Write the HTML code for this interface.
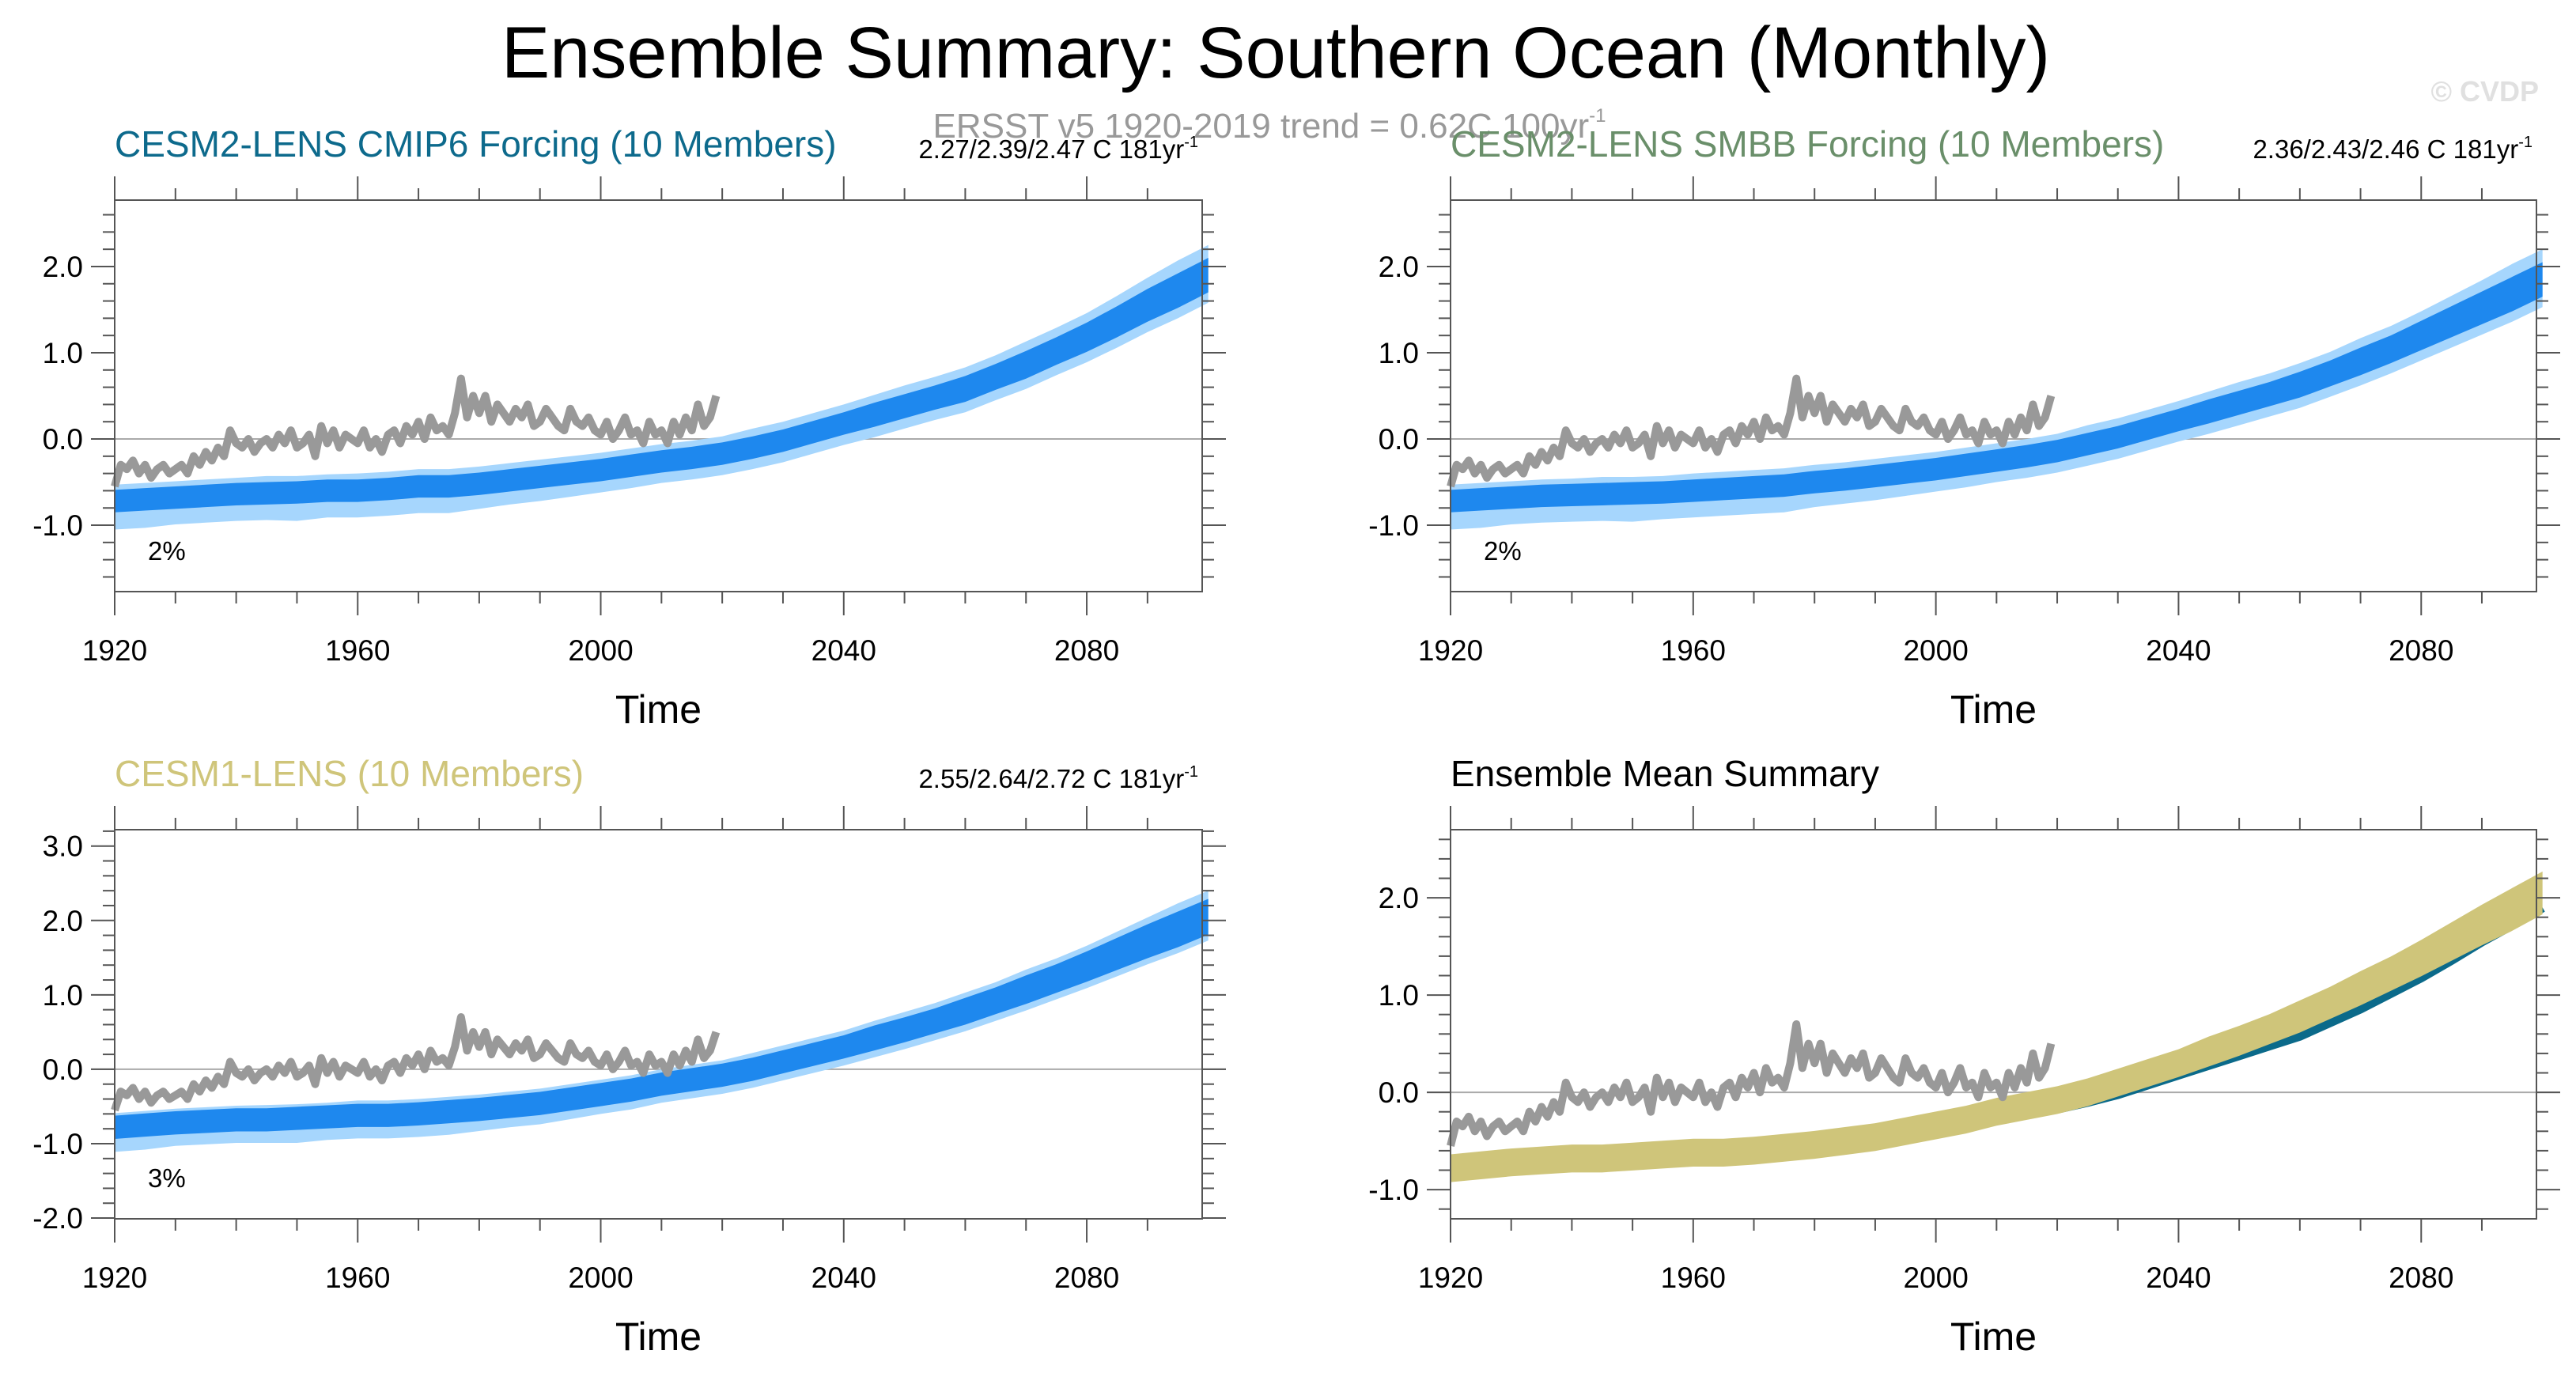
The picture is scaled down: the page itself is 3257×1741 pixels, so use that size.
<!DOCTYPE html>
<html><head><meta charset="utf-8"><style>
html,body{margin:0;padding:0;background:#fff;}
svg{display:block;font-family:"Liberation Sans",sans-serif;}
</style></head><body>
<svg id="fig" width="3257" height="1741" viewBox="0 0 3257 1741">
<text x="1613" y="98" font-size="92" text-anchor="middle" fill="#000">Ensemble Summary: Southern Ocean (Monthly)</text>
<text x="3210" y="128" font-size="36" font-weight="bold" text-anchor="end" fill="#e0e0e0">© CVDP</text>
<text x="1605" y="174" font-size="44" text-anchor="middle" fill="#999">ERSST v5 1920-2019 trend = 0.62C 100yr<tspan dy="-20" font-size="24">-1</tspan></text>
</svg>
<script>
// ---- data ----
const modelYears = [1920,1925,1930,1935,1940,1945,1950,1955,1960,1965,1970,1975,1980,1985,1990,1995,2000,2005,2010,2015,2020,2025,2030,2035,2040,2045,2050,2055,2060,2065,2070,2075,2080,2085,2090,2095,2100];
const meanCmip6 = [-0.72,-0.7,-0.68,-0.66,-0.64,-0.63,-0.62,-0.6,-0.6,-0.58,-0.55,-0.55,-0.52,-0.48,-0.44,-0.4,-0.36,-0.31,-0.26,-0.22,-0.17,-0.1,-0.02,0.08,0.18,0.28,0.38,0.48,0.58,0.72,0.86,1.02,1.18,1.36,1.55,1.72,1.9];
const meanSmbb = [-0.72,-0.7,-0.68,-0.66,-0.65,-0.64,-0.63,-0.62,-0.6,-0.58,-0.56,-0.54,-0.5,-0.47,-0.43,-0.39,-0.35,-0.3,-0.25,-0.2,-0.14,-0.06,0.02,0.12,0.22,0.32,0.42,0.52,0.63,0.76,0.9,1.04,1.2,1.36,1.52,1.68,1.85];
const meanCesm1 = [-0.78,-0.75,-0.72,-0.7,-0.68,-0.68,-0.66,-0.64,-0.62,-0.62,-0.6,-0.57,-0.54,-0.5,-0.46,-0.4,-0.34,-0.28,-0.2,-0.14,-0.08,0.0,0.1,0.2,0.3,0.42,0.53,0.65,0.78,0.92,1.07,1.22,1.38,1.55,1.72,1.88,2.05];
const spreadHalf = [0.13,0.13,0.13,0.13,0.13,0.13,0.13,0.13,0.13,0.13,0.13,0.13,0.13,0.13,0.13,0.13,0.13,0.13,0.13,0.13,0.13,0.13,0.13,0.13,0.13,0.14,0.14,0.14,0.15,0.15,0.16,0.16,0.17,0.18,0.19,0.2,0.2];
const lightLowExtra = [0.2,0.2,0.18,0.18,0.18,0.18,0.2,0.18,0.18,0.18,0.18,0.18,0.16,0.15,0.15,0.14,0.13,0.13,0.12,0.12,0.12,0.12,0.12,0.12,0.12,0.12,0.12,0.12,0.12,0.12,0.12,0.12,0.12,0.12,0.12,0.12,0.12];
const lightHighExtra = [0.06,0.06,0.06,0.06,0.06,0.07,0.06,0.06,0.07,0.07,0.07,0.07,0.07,0.07,0.07,0.07,0.07,0.07,0.07,0.07,0.07,0.09,0.09,0.09,0.09,0.09,0.1,0.1,0.1,0.1,0.11,0.11,0.11,0.12,0.13,0.15,0.15];
const obsYears = [];
for (let y = 1920; y <= 2019; y++) obsYears.push(y);
const obsSst = [-0.55,-0.3,-0.35,-0.25,-0.4,-0.3,-0.45,-0.35,-0.3,-0.4,
-0.35,-0.3,-0.4,-0.2,-0.3,-0.15,-0.25,-0.1,-0.2,0.1,
-0.05,-0.1,0.0,-0.15,-0.05,0.0,-0.1,0.05,-0.05,0.1,
-0.1,-0.05,0.05,-0.2,0.15,-0.05,0.1,-0.1,0.05,0.0,
-0.05,0.1,-0.1,0.0,-0.15,0.05,0.1,-0.05,0.15,0.05,
0.2,0.0,0.25,0.1,0.15,0.05,0.3,0.7,0.25,0.5,
0.3,0.5,0.2,0.4,0.3,0.2,0.35,0.25,0.4,0.15,
0.2,0.35,0.25,0.15,0.1,0.35,0.2,0.15,0.25,0.1,
0.05,0.2,0.0,0.1,0.25,0.05,0.1,-0.05,0.2,0.05,
0.1,-0.05,0.2,0.05,0.25,0.1,0.4,0.15,0.25,0.5];
const xTickLabels = ["1920","1960","2000","2040","2080"];
const yTicksA = ["-1.0","0.0","1.0","2.0"];
const yTicksC = ["-2.0","-1.0","0.0","1.0","2.0","3.0"];

// ---- drawing ----
const NS = "http://www.w3.org/2000/svg";
const svg = document.getElementById("fig");
function mk(tag, attrs, parent) {
  const e = document.createElementNS(NS, tag);
  for (const k in attrs) e.setAttribute(k, attrs[k]);
  (parent || svg).appendChild(e);
  return e;
}
function panel(p) {
  const g = mk("g", {});
  
  
  const X = yr => p.x0 + (yr - 1920) / 179 * (p.x1 - p.x0);
  const Y = v => p.y1 - (v - p.ymin) / (p.ymax - p.ymin) * (p.y1 - p.y0);
  const zl = mk("line", {x1: p.x0 - 30, x2: p.x1 + 30, y1: Y(0), y2: Y(0), stroke: "#aaa", "stroke-width": 2}, g);
  
  
  p.series.forEach(s => {
    if (s.band) {
      let up = [], dn = [];
      if (s.light) {
        modelYears.forEach((yr, i) => {
          up.push(X(yr) + "," + Y(s.mean[i] + spreadHalf[i] + lightHighExtra[i]));
          dn.unshift(X(yr) + "," + Y(s.mean[i] - spreadHalf[i] - lightLowExtra[i]));
        });
        const lb = mk("polygon", {points: up.concat(dn).join(" "), fill: s.light}, g);
        
        
      }
      up = []; dn = [];
      modelYears.forEach((yr, i) => {
        up.push(X(yr) + "," + Y(s.mean[i] + spreadHalf[i] * s.k));
        dn.unshift(X(yr) + "," + Y(s.mean[i] - spreadHalf[i] * s.k));
      });
      const db = mk("polygon", {points: up.concat(dn).join(" "), fill: s.color}, g);
      
      
    } else {
      const pts = modelYears.map((yr, i) => X(yr) + "," + Y(s.mean[i])).join(" ");
      const ln = mk("polyline", {points: pts, fill: "none", stroke: s.color, "stroke-width": s.w}, g);
      
      
    }
  });
  const op = obsYears.map((yr, i) => X(yr) + "," + Y(obsSst[i])).join(" ");
  const ol = mk("polyline", {points: op, fill: "none", stroke: "#999", "stroke-width": 10, "stroke-linejoin": "round"}, g);
  
  
  const fr = mk("rect", {x: p.x0, y: p.y0, width: p.x1 - p.x0, height: p.y1 - p.y0, fill: "none", stroke: "#555", "stroke-width": 2}, g);
  
  
  for (let yr = 1920; yr <= 2100; yr += 10) {
    const maj = (yr - 1920) % 40 === 0;
    const L = maj ? 30 : 15, x = X(yr);
    if (x > p.x1 + 2) continue;
    mk("line", {x1: x, x2: x, y1: p.y1, y2: p.y1 + L, stroke: "#555", "stroke-width": 2}, g);
    mk("line", {x1: x, x2: x, y1: p.y0, y2: p.y0 - L, stroke: "#555", "stroke-width": 2}, g);
  }
  xTickLabels.forEach(lab => {
    const t = mk("text", {x: X(+lab), y: p.y1 + 87, "font-size": 37, "text-anchor": "middle"}, g);
    t.textContent = lab;
    
    
  });
  for (let v = Math.ceil(p.ymin * 5) / 5; v <= p.ymax + 1e-6; v += 0.2) {
    const vv = Math.round(v * 10) / 10;
    const maj = Math.abs(vv - Math.round(vv)) < 1e-6;
    const L = maj ? 30 : 15, y = Y(vv);
    mk("line", {x1: p.x0 - L, x2: p.x0, y1: y, y2: y, stroke: "#555", "stroke-width": 2}, g);
    mk("line", {x1: p.x1, x2: p.x1 + L, y1: y, y2: y, stroke: "#555", "stroke-width": 2}, g);
  }
  p.yTicks.forEach(lab => {
    const t = mk("text", {x: p.x0 - 40, y: Y(+lab) + 13, "font-size": 37, "text-anchor": "end"}, g);
    t.textContent = lab;
    
    
  });
  const xt = mk("text", {x: (p.x0 + p.x1) / 2, y: p.y1 + 166, "font-size": 50, "text-anchor": "middle"}, g);
  xt.textContent = "Time";
  
  
  const tt = mk("text", {x: p.x0, y: p.y0 - 55, "font-size": 46, fill: p.tcolor}, g);
  tt.textContent = p.title;
  
  
  if (p.stats) {
    const st = mk("text", {x: p.x1 - 5, y: p.y0 - 53, "font-size": 33, "text-anchor": "end"}, g);
    st.innerHTML = p.stats + ' C 181yr<tspan dy="-14" font-size="20">-1</tspan>';
    
    
  }
  if (p.pct) {
    const pc = mk("text", {x: p.x0 + 42, y: p.y1 - 40, "font-size": 33}, g);
    pc.textContent = p.pct;
    
    
  }
}
const blue = "#1e88ee", lblue = "#a6d6fd";
panel({name: "panel-cesm2-cmip6", x0: 145, x1: 1520, y0: 253, y1: 748, ymin: -1.77, ymax: 2.77, yTicks: yTicksA,
  title: "CESM2-LENS CMIP6 Forcing (10 Members)", tcolor: "#0d6a8c", stats: "2.27/2.39/2.47", pct: "2%",
  series: [{id: "cmip6", band: true, mean: meanCmip6, color: blue, light: lblue, k: 1}]});
panel({name: "panel-cesm2-smbb", x0: 1834, x1: 3207, y0: 253, y1: 748, ymin: -1.77, ymax: 2.77, yTicks: yTicksA,
  title: "CESM2-LENS SMBB Forcing (10 Members)", tcolor: "#6a8f6a", stats: "2.36/2.43/2.46", pct: "2%",
  series: [{id: "smbb", band: true, mean: meanSmbb, color: blue, light: lblue, k: 1}]});
panel({name: "panel-cesm1", x0: 145, x1: 1520, y0: 1049, y1: 1541, ymin: -2.01, ymax: 3.22, yTicks: yTicksC,
  title: "CESM1-LENS (10 Members)", tcolor: "#cfc57a", stats: "2.55/2.64/2.72", pct: "3%",
  series: [{id: "cesm1", band: true, mean: meanCesm1, color: blue, light: lblue, k: 1.2}]});
panel({name: "panel-ensemble-mean", x0: 1834, x1: 3207, y0: 1049, y1: 1541, ymin: -1.3, ymax: 2.7, yTicks: yTicksA,
  title: "Ensemble Mean Summary", tcolor: "#000",
  series: [{id: "cmip6-mean", band: false, mean: meanCmip6, color: "#0b6a8a", w: 12},
           {id: "cesm1-mean", band: true, mean: meanCesm1, color: "#cfc57a", k: 1.1}]});
</script>
</body></html>
